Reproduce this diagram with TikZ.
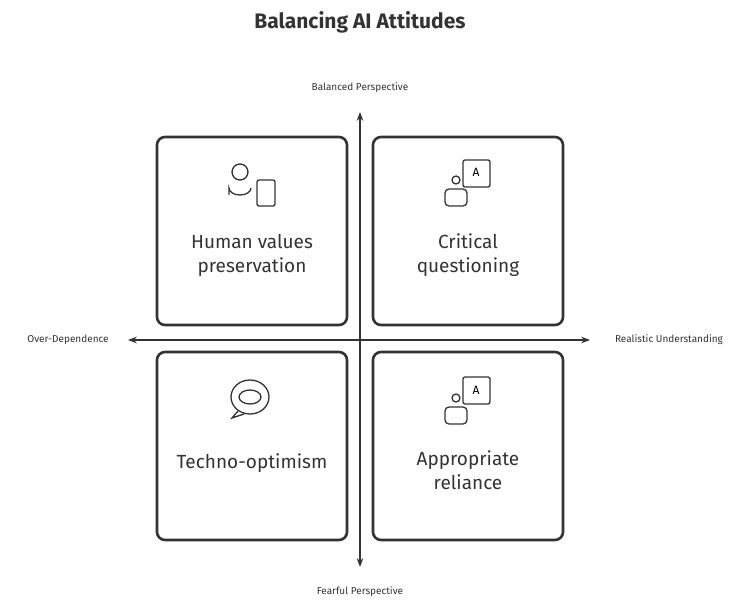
\documentclass[tikz,border=0pt]{standalone}
\usepackage{fontspec}
\setmainfont{Fira Sans}
\usetikzlibrary{positioning, arrows.meta}
\tikzset{
	quad/.style={draw=black!80,line width=2.6pt,rounded corners=8pt,minimum width=190pt,minimum height=188pt,align=center,font=\fontsize{19}{24}\selectfont,text=black!80},
	axlabel/.style={font=\fontsize{10}{12}\selectfont,text=black!80},
	icon/.style={draw=black!80,line width=1.3pt}
}
\begin{document}
\begin{tikzpicture}[x=1pt,y=-1pt]
	\useasboundingbox (0,0) rectangle (756,612);
	\node[font=\bfseries\fontsize{21}{24}\selectfont,text=black!80] (title) at (360,22) {Balancing AI Attitudes};
	% quadrants
	\node[quad] (hv) at (252,231) {\\[40pt]Human values\\preservation};
	\node[quad] (cq) at (468,231) {\\[40pt]Critical\\questioning};
	\node[quad] (to) at (252,446) {\\[26pt]Techno-optimism};
	\node[quad] (ar) at (468,446) {\\[40pt]Appropriate\\reliance};
	% axes
	\node[axlabel] (top) at (360,88) {Balanced Perspective};
	\node[axlabel] (bot) at (360,592) {Fearful Perspective};
	\node[axlabel] (lft) at (68,340) {Over-Dependence};
	\node[axlabel] (rgt) at (669,340) {Realistic Understanding};
	\draw[black!80,line width=1.3pt,{Stealth[open]}-{Stealth[open]}] (360,112) -- (360,567);
	\draw[black!80,line width=1.3pt,{Stealth[open]}-{Stealth[open]}] (128,340) -- (590,340);
	% icons
	\draw[icon] (240,172) circle (8pt);
	\draw[icon] (229,195) -- (229,188) arc (180:0:11 and 7) ;
	\draw[icon,rounded corners=2pt] (257,180) rectangle (275,206);
	\draw[icon,rounded corners=2pt] (463,160) rectangle (490,187);
	\node[font=\fontsize{12}{12}\selectfont] (a1) at (476,172) {A};
	\draw[icon] (456,180) circle (4pt);
	\draw[icon,rounded corners=4pt] (445,206) rectangle (467,189);
	\draw[icon] (250,397) ellipse (19pt and 17pt);
	\draw[icon] (250,397) ellipse (11pt and 7pt);
	\draw[icon] (238,411) -- (232,418) -- (244,414);
	\draw[icon,rounded corners=2pt] (463,377) rectangle (490,404);
	\node[font=\fontsize{12}{12}\selectfont] (a2) at (476,390) {A};
	\draw[icon] (456,398) circle (4pt);
	\draw[icon,rounded corners=4pt] (445,424) rectangle (467,407);
\end{tikzpicture}
\end{document}
